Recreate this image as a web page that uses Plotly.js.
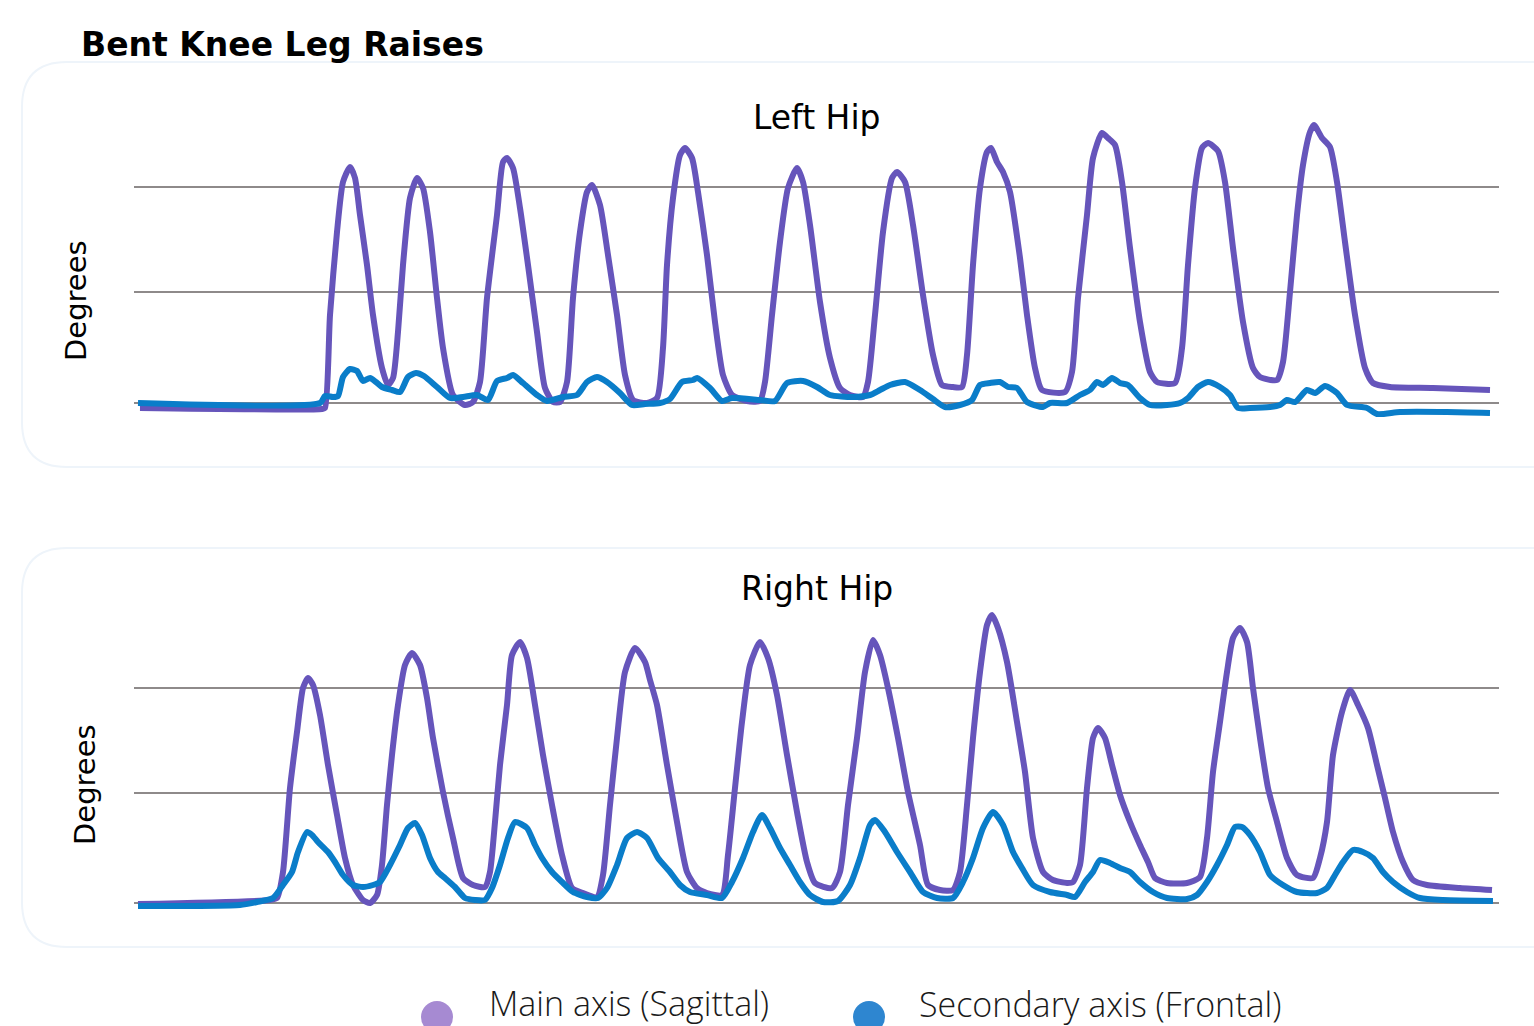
<!DOCTYPE html>
<html>
<head>
<meta charset="utf-8">
<script src="https://cdn.plot.ly/plotly-3.0.1.min.js"></script>
<style>
  html, body { margin: 0; padding: 0; background: #ffffff; }
  #chart { width: 1534px; height: 1026px; }
</style>
</head>
<body>
<div id="chart"></div>
<script>
// ---------- DATA (time in frames, angle in degrees) ----------
const chartTitle = "Bent Knee Leg Raises";
const panelTitles = ["Left Hip", "Right Hip"];
const seriesNames = ["Main axis (Sagittal)", "Secondary axis (Frontal)"];
const yAxisLabel = "Degrees";
const gridLevelsLeft = [0, 22.2, 43.2];
const gridLevelsRight = [0, 22, 43];

const leftSagittalT = [2,184,187,192,199,205,212,217,222,229,235,244,250,255,260,265,272,279,285,292,299,305,315,327,335,342,349,359,365,369,375,382,390,399,407,415,422,429,435,442,449,454,462,470,479,487,495,509,519,525,529,535,542,547,554,560,569,577,585,594,609,622,627,634,642,650,659,665,672,682,692,702,712,725,730,737,745,754,759,767,775,785,795,804,815,824,829,835,842,849,853,859,865,872,882,889,897,904,927,934,940,949,955,964,970,977,984,992,1002,1012,1019,1037,1044,1050,1057,1064,1070,1080,1087,1095,1105,1115,1122,1139,1145,1152,1159,1165,1172,1176,1184,1192,1199,1207,1217,1227,1235,1252,1295,1352];
const leftSagittalDeg = [-1,-1.2,-1,17.6,34.2,44.2,47.2,45,37.6,27.6,17.6,7,3.6,5,14.2,27.6,41,45,43,34.2,21,11,1.6,-0.4,0.2,4.2,21,37.6,48.2,49,47,39,27.6,14.2,3,0.2,0.2,4.2,21,34.2,42.2,43.6,39.6,29.6,17.6,5.6,0.6,0,1,11,27.6,41,49.6,51,49,42.2,29.6,16.2,5.6,1.6,0.4,0.4,4.2,17.6,32.2,43,47,44.2,35.6,20.2,9,3,1.6,1.2,4.2,17.6,34.2,45,46.2,44.2,35.6,21.6,9.6,3.6,3.2,3.2,9.6,27.6,43,50.2,51,48.2,46.2,42.2,29,17.6,7,2.6,2.2,6.2,21,37.6,49,54,53,51.6,44.2,31,16.2,6.2,4.2,4,11,27.6,43,51,52,50.4,44.2,31,16.2,7,5.2,4.6,8.2,22.2,37.6,47.6,54.2,55.6,53,51.2,44.2,32.2,17.6,7,4,3.2,3,2.6];

const leftFrontalT = [0,182,187,195,200,205,212,219,225,232,238,244,254,262,270,278,286,299,312,325,339,350,359,369,375,385,399,409,425,439,449,459,469,482,494,507,522,532,544,555,559,572,584,594,622,637,649,665,679,692,715,732,742,752,767,782,795,807,822,834,842,852,862,870,879,889,905,912,929,942,952,959,965,974,982,990,1002,1012,1029,1042,1050,1060,1070,1082,1092,1100,1112,1132,1142,1149,1157,1169,1177,1187,1199,1209,1229,1239,1262,1309,1352];
const leftFrontalDeg = [0,0,1.4,1.2,1.4,5.2,6.8,6.4,4.4,5,4.2,3.2,2.6,2.2,5.2,6,5.4,3.2,1,1.2,1.6,0.6,4.4,5,5.6,4,1.6,0.4,1.2,1.6,4.2,5.2,4.2,2,-0.4,-0.2,0,0.8,4.2,4.6,5,3,0.4,1,0.6,0.4,4,4.4,3.2,1.6,1.2,1.6,2.6,3.6,4.2,2.6,0.8,-0.8,-0.4,0.6,3.6,4,4.2,3.2,3,0.2,-0.8,0,0,1.6,2.6,4.2,3.6,5,4,3.6,1,-0.4,-0.4,0,1,3.2,4.2,3.2,1.6,-1,-1,-0.8,-0.4,0.6,0.2,2.6,2,3.4,2,-0.4,-1,-2.2,-1.8,-1.8,-2];

const rightSagittalT = [0,132,139,145,152,159,165,170,175,182,190,199,207,215,225,232,239,244,249,254,260,267,274,282,289,295,305,315,325,335,347,352,357,362,369,374,382,389,397,405,414,424,434,445,459,465,472,479,487,497,507,512,519,529,539,549,559,569,584,590,597,604,612,622,630,639,649,659,669,677,694,702,710,719,727,735,742,750,760,770,782,790,802,815,822,829,835,842,849,854,860,869,879,887,895,905,915,929,935,942,949,955,960,967,974,982,992,1002,1010,1017,1029,1049,1062,1069,1075,1082,1089,1095,1102,1109,1115,1122,1130,1139,1149,1159,1175,1182,1189,1195,1204,1212,1220,1230,1239,1247,1255,1265,1275,1289,1322,1354];
const rightSagittalDeg = [-0.2,0.6,1,6.2,23,34.2,43,45,43.6,37.6,27.6,17.6,9,3.6,0.6,0,1.6,7.6,19.6,29.6,39.6,47.6,50,47.6,41,33,22.2,13,5,3.6,3.2,6.2,16.2,27.6,39.6,49.6,52.2,49,39.6,29.6,19.6,9.6,3,2,1.2,5.6,19.6,33,46.2,51,48.2,44.6,39.6,27.6,16.2,6.2,3,2,1.6,9.6,23,36.2,47.6,52.2,49,41.6,29.6,18.2,8.2,4,3,6.2,19.6,33,46.2,52.6,49.6,43,33,22.2,11.6,3.6,2.6,2.6,6.2,19.6,33,46.2,55.6,57.6,55,48.2,36.2,26.2,13,6.2,4.6,4,4.2,7.6,23,33,35,33,27.6,21.6,16.2,11.6,8.2,5,4,4,5.2,13,26.2,36.2,46.2,53,55,52.2,43,33,23,16.2,9,5.6,5,9,16.2,29.6,38.2,42.6,39.6,35,27.6,21,14.2,8.2,4.6,3.6,3,2.6];

const rightFrontalT = [0,102,119,135,145,154,160,169,174,180,190,197,205,215,225,235,242,252,262,270,277,284,292,300,307,317,327,337,347,354,362,370,377,389,397,404,414,424,435,449,460,469,479,489,499,509,520,532,542,552,569,584,594,605,615,624,632,642,652,662,672,685,700,712,722,732,737,747,759,772,785,799,815,825,835,845,855,865,875,884,895,912,929,937,947,955,962,972,982,992,1002,1015,1029,1049,1059,1069,1079,1089,1097,1104,1112,1122,1132,1145,1159,1179,1189,1197,1205,1215,1225,1235,1245,1255,1269,1282,1305,1355];
const rightFrontalDeg = [-0.6,-0.4,0.2,1,3.6,6.2,10.2,14.2,13.6,12.2,10.2,8.2,5.6,3.6,3.2,3.6,4.2,7.6,11.6,15,16,13.6,9,6.2,5,3.2,1,0.6,0.6,3,7.6,13,16.2,15,11.6,9,6.2,4.2,2.2,1.2,1,3,7.6,13,14.2,13,9,6.2,3.6,2.2,1.6,1,4.2,9,14.2,17.6,15,11,7.6,4.2,1.6,0.2,0.4,3.6,9,15.6,16.6,14.2,10.2,6.2,2.2,1,1,4.2,9,15,18.2,15.6,10.2,7,3.6,2.2,1.6,1.2,4.2,6.2,8.6,8,7,6.2,4.2,2.2,1,0.8,1.6,4.2,7.6,11.6,15.2,15.2,13.6,10.2,5.6,3.6,2.2,2,3,5.6,8.2,10.6,10.2,9,6.2,4.2,2.2,1,0.6,0.4];

// ---------- LAYOUT HELPERS ----------
const W = 1534, H = 1026;
const px = v => v / W;
const py = v => 1 - v / H;

const sagColor = "#6655BB";
const frontColor = "#0A7DC9";
const lineStyle = c => ({ color: c, width: 6, shape: "spline", smoothing: 0.6 });

const traces = [
  { x: leftSagittalT, y: leftSagittalDeg, xaxis: "x", yaxis: "y", mode: "lines",
    name: seriesNames[0], line: lineStyle(sagColor), showlegend: false, hoverinfo: "skip" },
  { x: leftFrontalT, y: leftFrontalDeg, xaxis: "x", yaxis: "y", mode: "lines",
    name: seriesNames[1], line: lineStyle(frontColor), showlegend: false, hoverinfo: "skip" },
  { x: rightSagittalT, y: rightSagittalDeg, xaxis: "x2", yaxis: "y2", mode: "lines",
    name: seriesNames[0], line: lineStyle(sagColor), showlegend: false, hoverinfo: "skip" },
  { x: rightFrontalT, y: rightFrontalDeg, xaxis: "x2", yaxis: "y2", mode: "lines",
    name: seriesNames[1], line: lineStyle(frontColor), showlegend: false, hoverinfo: "skip" }
];

const xCommon = {
  range: [-4, 1361], showgrid: false, zeroline: false, showline: false,
  showticklabels: false, ticks: "", fixedrange: true
};
const yCommon = {
  showgrid: true, gridcolor: "#8E8A8A", gridwidth: 2, zeroline: false,
  showline: false, showticklabels: false, ticks: "", tickmode: "array", fixedrange: true
};

function panelPath(top, bottom) {
  const L = 22, R = 1545, r = 45;
  return `M ${px(R)} ${py(top)} L ${px(L + r)} ${py(top)} Q ${px(L)} ${py(top)} ${px(L)} ${py(top + r)} ` +
         `L ${px(L)} ${py(bottom - r)} Q ${px(L)} ${py(bottom)} ${px(L + r)} ${py(bottom)} L ${px(R)} ${py(bottom)}`;
}

const wideFont = "'DejaVu Sans', Verdana, sans-serif";
const lightFont = "'Open Sans', sans-serif";

const layout = {
  width: W, height: H,
  margin: { l: 0, r: 0, t: 0, b: 0 },
  paper_bgcolor: "#ffffff", plot_bgcolor: "rgba(0,0,0,0)",
  font: { family: wideFont, color: "#000000" },
  showlegend: false,
  xaxis: Object.assign({}, xCommon, { domain: [px(134), px(1499)], anchor: "y" }),
  yaxis: Object.assign({}, yCommon, { domain: [py(420), py(120)], range: [-3.4, 56.6],
    tickvals: gridLevelsLeft, anchor: "x" }),
  xaxis2: Object.assign({}, xCommon, { domain: [px(134), px(1499)], anchor: "y2" }),
  yaxis2: Object.assign({}, yCommon, { domain: [py(915), py(600)], range: [-2.4, 60.6],
    tickvals: gridLevelsRight, anchor: "x2" }),
  shapes: [
    { type: "path", xref: "paper", yref: "paper", path: panelPath(62, 467),
      line: { color: "#EEF4FA", width: 2 }, layer: "below" },
    { type: "path", xref: "paper", yref: "paper", path: panelPath(548, 947),
      line: { color: "#EEF4FA", width: 2 }, layer: "below" },
    { type: "circle", xref: "paper", yref: "paper",
      x0: px(421), x1: px(453), y0: py(1033), y1: py(1001),
      fillcolor: "#A68AD2", line: { width: 0 } },
    { type: "circle", xref: "paper", yref: "paper",
      x0: px(853), x1: px(885), y0: py(1033), y1: py(1001),
      fillcolor: "#2E86D0", line: { width: 0 } }
  ],
  annotations: [
    { text: "<b>" + chartTitle + "</b>", xref: "paper", yref: "paper",
      x: px(79), y: py(44), xanchor: "left", yanchor: "middle", showarrow: false,
      font: { size: 33, color: "#000000" } },
    { text: panelTitles[0], xref: "paper", yref: "paper",
      x: px(817), y: py(117), xanchor: "center", yanchor: "middle", showarrow: false,
      font: { size: 33, color: "#000000" } },
    { text: panelTitles[1], xref: "paper", yref: "paper",
      x: px(817), y: py(588), xanchor: "center", yanchor: "middle", showarrow: false,
      font: { size: 33, color: "#000000" } },
    { text: yAxisLabel, xref: "paper", yref: "paper", textangle: -90,
      x: px(76), y: py(301), xanchor: "center", yanchor: "middle", showarrow: false,
      font: { size: 29, color: "#000000" } },
    { text: yAxisLabel, xref: "paper", yref: "paper", textangle: -90,
      x: px(85), y: py(785), xanchor: "center", yanchor: "middle", showarrow: false,
      font: { size: 29, color: "#000000" } },
    { text: seriesNames[0], xref: "paper", yref: "paper",
      x: px(487), y: py(1003), xanchor: "left", yanchor: "middle", showarrow: false,
      font: { size: 34, color: "#1a1a1a", family: lightFont, weight: 300 } },
    { text: seriesNames[1], xref: "paper", yref: "paper",
      x: px(917), y: py(1004), xanchor: "left", yanchor: "middle", showarrow: false,
      font: { size: 34, color: "#1a1a1a", family: lightFont, weight: 300 } }
  ]
};

Plotly.newPlot("chart", traces, layout, { displayModeBar: false, staticPlot: true });
</script>
</body>
</html>
